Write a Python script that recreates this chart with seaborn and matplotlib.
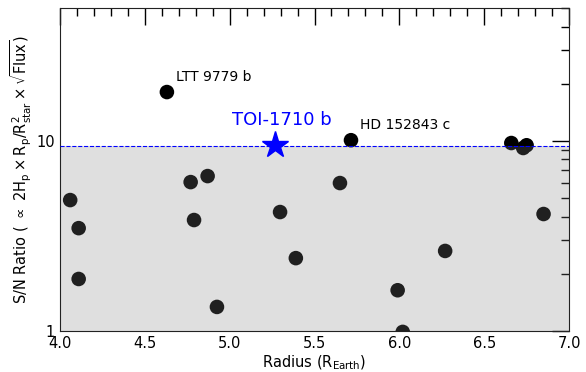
import numpy as np
import pandas as pd
import matplotlib.pyplot as plt
import seaborn as sns
from matplotlib.ticker import MultipleLocator, LogLocator, NullFormatter

sns.set_style("white")
plt.rcParams["text.color"] = "black"
plt.rcParams["axes.labelcolor"] = "black"
plt.rcParams["xtick.color"] = "black"
plt.rcParams["ytick.color"] = "black"

# planet sample
radius = [4.06, 4.11, 4.11, 4.63, 4.77, 4.87, 4.79, 4.925, 5.297, 5.39,
          5.65, 5.715, 5.99, 6.02, 6.27, 6.66, 6.73, 6.75, 6.85]
snr = [4.89, 3.48, 1.88, 18.1, 6.08, 6.54, 3.84, 1.34, 4.23, 2.42,
       6.01, 10.1, 1.64, 0.99, 2.64, 9.76, 9.19, 9.5, 4.13]
labeled = {"LTT 9779 b": (4.63, 18.1), "HD 152843 c": (5.715, 10.1)}

toi_radius = 5.27
toi_snr = 9.5
cut = 9.4

df = pd.DataFrame({"radius": radius, "snr": snr})

fig, ax = plt.subplots(figsize=(5.86, 3.72), dpi=100)
sns.scatterplot(data=df, x="radius", y="snr", color="black", s=110,
                edgecolor="none", ax=ax, zorder=2)
ax.plot(toi_radius, toi_snr, marker="*", color="blue", markersize=20, zorder=3)
ax.text(toi_radius + 0.04, toi_snr * 1.22, "TOI-1710 b", color="blue",
        fontsize=13, ha="center", va="bottom")
for name, (x, y) in labeled.items():
    ax.text(x + 0.055, y * 1.1, name, fontsize=10, va="bottom")

ax.axhline(cut, color="blue", ls="--", lw=0.8, zorder=4)
ax.axhspan(0.5, cut, color="gray", alpha=0.25, lw=0, zorder=2.5)

ax.set_yscale("log")
ax.set_xlim(4.0, 7.0)
ax.set_ylim(1, 50)
ax.xaxis.set_major_locator(MultipleLocator(0.5))
ax.xaxis.set_minor_locator(MultipleLocator(0.1))
ax.yaxis.set_minor_locator(LogLocator(base=10, subs=np.arange(2, 10)))
ax.yaxis.set_minor_formatter(NullFormatter())
ax.set_yticks([1, 10])
ax.set_yticklabels(["1", "10"])
ax.tick_params(which="both", direction="in", top=True, right=True, labelsize=10.5)
ax.tick_params(which="major", length=12, width=1)
ax.tick_params(which="minor", length=6, width=1)
for s in ax.spines.values():
    s.set_color("#222222")

ax.set_xlabel(r"Radius (R$_{\rm Earth}$)", fontsize=10.5, labelpad=2)
ax.set_ylabel(r"S/N Ratio ( $\propto$ 2H$_{\rm p}\times$R$_{\rm p}$/R$^2_{\rm star}\times\sqrt{\rm Flux}$)",
              fontsize=10.5, labelpad=2)

fig.subplots_adjust(left=0.1024, right=0.971, top=0.978, bottom=0.11)
fig.savefig("out.png", dpi=100)
